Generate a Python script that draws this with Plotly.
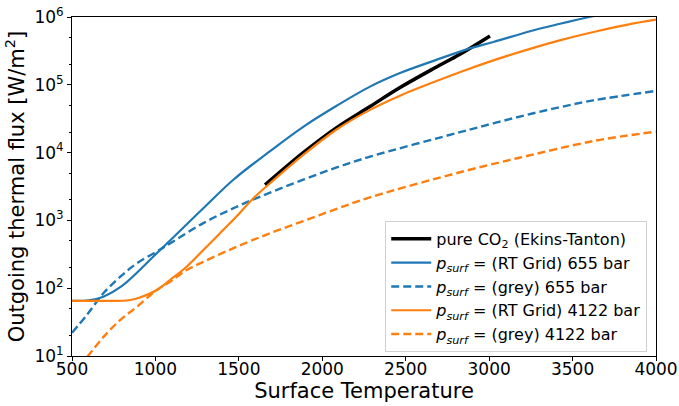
import plotly.graph_objects as go

# Surface temperature grid points [K] and outgoing thermal flux [W/m^2]
T_ekins = [1657, 1886, 2086, 2286, 2466, 2675, 2825, 3005]
F_ekins = [3340, 10000, 23400, 47900, 91200, 178000, 282000, 525000]

T_rt655 = [500, 600, 688, 798, 1008, 1287, 1467, 1687, 1886, 2086,
           2286, 2466, 2675, 2875, 3025, 3245, 3425, 3600, 3800, 4000]
F_rt655 = [65, 66, 75, 107, 327, 1510, 3980, 10500, 24000, 49000,
           94000, 149000, 229000, 339000, 427000, 617000, 794000, 1000000,
           1260000, 1580000]

T_grey655 = [500, 588, 688, 788, 888, 1008, 1087, 1287, 1487, 1687, 1886, 2086,
             2286, 2825, 3025, 3225, 3425, 3624, 4000]
F_grey655 = [22, 40, 84, 147, 232, 347, 457, 912, 1590, 2570, 3980, 6030,
             8710, 20000, 27000, 36000, 46800, 58900, 81300]

T_rt4122 = [500, 600, 700, 780, 850, 907, 1008, 1087, 1187, 1287, 1387, 1487, 1587,
            1687, 1886, 2086, 2286, 2466, 2840, 3025, 3245, 3445, 3645, 3824, 4000]
F_rt4122 = [65, 65, 65, 65, 67, 73, 94, 132, 207, 365, 646, 1150, 2120,
            3530, 9250, 21900, 42700, 69200, 158000, 229000, 339000, 468000,
            617000, 767000, 912000]

T_grey4122 = [590, 688, 788, 888, 1008, 1087, 1187, 1287, 1487, 1687, 1886,
              2086, 2286, 2825, 3125, 3225, 3624, 4000]
F_grey4122 = [9.6, 19, 33.8, 53, 94, 124, 185, 245, 409, 646, 977,
              1480, 2190, 5130, 7800, 8900, 14800, 20400]

x_ticks = [500, 1000, 1500, 2000, 2500, 3000, 3500, 4000]
y_ticks = [10, 100, 1000, 10000, 100000, 1000000]
y_ticktext = ["10<sup>1</sup>", "10<sup>2</sup>", "10<sup>3</sup>",
              "10<sup>4</sup>", "10<sup>5</sup>", "10<sup>6</sup>"]

BLUE = "#1f77b4"
ORANGE = "#ff7f0e"
PSURF = "<i>p</i><sub><i>surf</i></sub>"

fig = go.Figure()

def add(x, y, name, color, width, dash="solid"):
    fig.add_trace(go.Scatter(
        x=x, y=y, mode="lines", name=name,
        line=dict(color=color, width=width, dash=dash, shape="spline", smoothing=1.0),
    ))

add(T_ekins, F_ekins, "pure CO<sub>2</sub> (Ekins-Tanton)", "black", 3.5)
add(T_rt655, F_rt655, PSURF + " = (RT Grid) 655 bar", BLUE, 2.2)
add(T_grey655, F_grey655, PSURF + " = (grey) 655 bar", BLUE, 2.4, "8px,4px")
add(T_rt4122, F_rt4122, PSURF + " = (RT Grid) 4122 bar", ORANGE, 2.2)
add(T_grey4122, F_grey4122, PSURF + " = (grey) 4122 bar", ORANGE, 2.4, "8px,4px")

fig.update_layout(
    width=679, height=406,
    margin=dict(l=72, r=23, t=17, b=50),
    paper_bgcolor="white", plot_bgcolor="white",
    font=dict(family="DejaVu Sans", color="black", size=17),
    showlegend=True,
    legend=dict(
        x=0.985, y=0.012, xanchor="right", yanchor="bottom",
        bgcolor="rgba(255,255,255,0.8)", bordercolor="#d0d0d0", borderwidth=1,
        font=dict(size=16, family="DejaVu Sans"),
        tracegroupgap=0, itemwidth=40,
    ),
)

fig.update_xaxes(
    range=[500, 4000], tickvals=x_ticks, ticktext=[str(v) for v in x_ticks],
    showgrid=False, zeroline=False, automargin=False,
    showline=True, linecolor="black", linewidth=1, mirror=True,
    ticks="outside", ticklen=4, tickcolor="black",
    ticklabelstandoff=-6,
    tickfont=dict(size=17),
    title=dict(text="Surface Temperature", font=dict(size=21), standoff=0),
)

fig.update_yaxes(
    type="log", range=[1, 6], tickvals=y_ticks, ticktext=y_ticktext,
    showgrid=False, zeroline=False, automargin=False,
    showline=True, linecolor="black", linewidth=1, mirror=True,
    ticks="outside", ticklen=4, tickcolor="black",
    tickfont=dict(size=17),
    minor=dict(ticks="outside", ticklen=2.5, tickcolor="black", showgrid=False),
    title=dict(text="Outgoing thermal flux [W/m<sup>2</sup>]", font=dict(size=21), standoff=4),
)

fig.write_html("out.html")
